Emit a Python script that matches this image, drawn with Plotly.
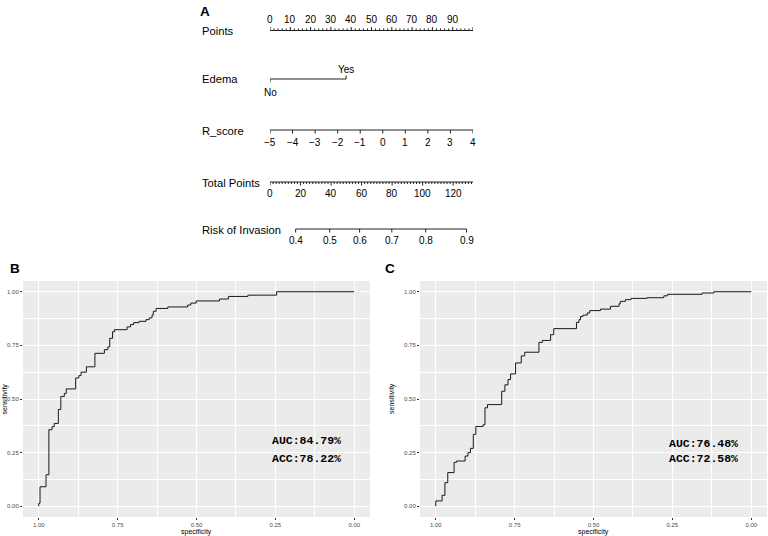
import plotly.graph_objects as go

W, H = 768, 536

# ---------------- Nomogram data ----------------
points_labels = [0, 10, 20, 30, 40, 50, 60, 70, 80, 90]
points_max = 100
edema_levels = ["No", "Yes"]
edema_points = [0, 37.5]
r_score_values = [-5, -4, -3, -2, -1, 0, 1, 2, 3, 4]
total_ticks = [0, 20, 40, 60, 80, 100, 120]
total_max = 133
risk_values = [0.4, 0.5, 0.6, 0.7, 0.8, 0.9]
risk_total_points = [16.8, 39.1, 58.7, 79.8, 102.0, 128.8]

# ---------------- ROC data (specificity where each sensitivity level ends) ----------------
roc_b_spec = [1.0, 0.996, 0.977, 0.968, 0.958, 0.951, 0.938, 0.930, 0.919, 0.913, 0.883,
              0.873, 0.866, 0.849, 0.822, 0.792, 0.781, 0.775, 0.766, 0.760, 0.720, 0.709,
              0.699, 0.682, 0.660, 0.650, 0.641, 0.637, 0.628, 0.591, 0.528, 0.518, 0.501,
              0.427, 0.399, 0.337, 0.246, 0.0]
roc_b_sens = [0.0, 0.014, 0.091, 0.147, 0.357, 0.371, 0.386, 0.451, 0.512, 0.526, 0.547,
              0.598, 0.609, 0.625, 0.650, 0.713, 0.730, 0.743, 0.783, 0.814, 0.823, 0.836,
              0.847, 0.856, 0.862, 0.870, 0.878, 0.891, 0.909, 0.922, 0.929, 0.938, 0.947,
              0.957, 0.966, 0.978, 0.984, 1.0]
roc_c_spec = [1.0, 0.980, 0.971, 0.962, 0.942, 0.934, 0.907, 0.898, 0.890, 0.881, 0.873,
              0.850, 0.844, 0.836, 0.791, 0.781, 0.771, 0.763, 0.747, 0.729, 0.718, 0.673,
              0.662, 0.636, 0.626, 0.554, 0.546, 0.541, 0.533, 0.520, 0.512, 0.478, 0.446,
              0.419, 0.415, 0.399, 0.381, 0.330, 0.277, 0.265, 0.156, 0.119, 0.0]
roc_c_sens = [0.0, 0.025, 0.051, 0.110, 0.157, 0.205, 0.211, 0.234, 0.250, 0.270, 0.335,
              0.372, 0.380, 0.459, 0.474, 0.536, 0.566, 0.591, 0.617, 0.668, 0.701, 0.718,
              0.764, 0.773, 0.800, 0.828, 0.857, 0.870, 0.885, 0.891, 0.901, 0.912, 0.919,
              0.932, 0.944, 0.955, 0.963, 0.969, 0.972, 0.981, 0.988, 0.994, 1.0]
auc_b, acc_b = "84.79%", "78.22%"
auc_c, acc_c = "76.48%", "72.58%"


def px(x):
    return x / W


def py(y):
    return 1 - y / H


fig = go.Figure()

# ---------------- Nomogram (axis x3: points 0..100, axis y3: pixel rows) ----------------
row_y = {"Points": 30.5, "Edema": 79, "R_score": 130, "Total Points": 182, "Risk of Invasion": 229}
line_col = "#222222"
font_sans = "Liberation Sans, Arial, sans-serif"


def seg_trace(xs, ys):
    fig.add_trace(go.Scatter(x=xs, y=ys, mode="lines", xaxis="x3", yaxis="y3",
                             line=dict(color=line_col, width=1), hoverinfo="skip",
                             showlegend=False))


def tick_lines(positions, y0, lengths):
    xs, ys = [], []
    for p, L in zip(positions, lengths):
        xs += [p, p, None]
        ys += [y0, y0 + L, None]
    return xs, ys


annotations = []


def label(x, y, text, size=10, xref="x3", yref="y3", xanchor="center", family=font_sans,
          bold=False, angle=0):
    annotations.append(dict(x=x, y=y, text=("<b>%s</b>" % text) if bold else text,
                            xref=xref, yref=yref, showarrow=False,
                            xanchor=xanchor, yanchor="middle", textangle=angle,
                            font=dict(size=size, color="black", family=family)))


# Points
yP = row_y["Points"]
minor = list(range(0, points_max + 1, 2))
xs, ys = tick_lines(minor, yP, [-3.5 if v % 10 == 0 else -2 for v in minor])
seg_trace([0, points_max, None] + xs, [yP, yP, None] + ys)
for v in points_labels:
    label(v, yP - 11, str(v))

# Edema
yE = row_y["Edema"]
seg_trace([edema_points[0], edema_points[1], None, edema_points[0], edema_points[0], None,
           edema_points[1], edema_points[1]],
          [yE, yE, None, yE, yE + 3.5, None, yE, yE - 3.5])
label(edema_points[0], yE + 13, edema_levels[0])
label(edema_points[1], yE - 9.5, edema_levels[1])

# R_score
yR = row_y["R_score"]
r_min, r_max = min(r_score_values), max(r_score_values)
r_pos = [(v - r_min) / (r_max - r_min) * points_max for v in r_score_values]
xs, ys = tick_lines(r_pos, yR, [3.5] * len(r_pos))
seg_trace([r_pos[0], r_pos[-1], None] + xs, [yR, yR, None] + ys)
for v, p in zip(r_score_values, r_pos):
    label(p, yR + 12, ("\u2212" + str(-v)) if v < 0 else str(v))

# Total Points
yT = row_y["Total Points"]
tmin = list(range(0, total_max + 1, 2))
t_pos = [v * points_max / total_max for v in tmin]
xs, ys = tick_lines(t_pos, yT, [3.5 if v % 20 == 0 else 2 for v in tmin])
seg_trace([0, points_max, None] + xs, [yT, yT, None] + ys)
for v in total_ticks:
    label(v * points_max / total_max, yT + 11, str(v))

# Risk
yK = row_y["Risk of Invasion"]
k_pos = [v * points_max / total_max for v in risk_total_points]
xs, ys = tick_lines(k_pos, yK, [3.5] * len(k_pos))
seg_trace([k_pos[0], k_pos[-1], None] + xs, [yK, yK, None] + ys)
for v, p in zip(risk_values, k_pos):
    label(p, yK + 11.5, f"{v:.1f}")

# Row labels
for name, yv in row_y.items():
    label(px(200), py(yv + 0.5), name, size=11.2, xref="paper", yref="paper", xanchor="left")

# ---------------- ROC curves ----------------
fig.add_trace(go.Scatter(x=roc_b_spec, y=roc_b_sens, mode="lines", line_shape="vh",
                         line=dict(color="#1a1a1a", width=1), xaxis="x", yaxis="y",
                         showlegend=False, hoverinfo="skip"))
fig.add_trace(go.Scatter(x=roc_c_spec, y=roc_c_sens, mode="lines", line_shape="vh",
                         line=dict(color="#1a1a1a", width=1), xaxis="x2", yaxis="y2",
                         showlegend=False, hoverinfo="skip"))

mono = "Liberation Mono, Courier New, monospace"
for ax, auc, acc, yA, yC in (("", auc_b, acc_b, 0.305, 0.222), ("2", auc_c, acc_c, 0.292, 0.222)):
    label(0.15, yA, "AUC:" + auc, size=11.5, xref="x" + ax, yref="y" + ax, family=mono, bold=True)
    label(0.15, yC, "ACC:" + acc, size=11.5, xref="x" + ax, yref="y" + ax, family=mono, bold=True)


def roc_axis(domain, anchor, rng):
    return dict(domain=domain, anchor=anchor, range=rng, showgrid=True, gridcolor="white",
                gridwidth=1.1, zeroline=False, showline=False, ticks="outside", ticklen=2,
                tickwidth=0.6, tickcolor="#333333", tickvals=[0, 0.25, 0.5, 0.75, 1],
                tickformat=".2f", tickfont=dict(size=6, color="#4D4D4D", family=font_sans),
                minor=dict(showgrid=True, gridcolor="white", gridwidth=0.5,
                           tickvals=[0.125, 0.375, 0.625, 0.875], ticks=""),
                fixedrange=True)


ydom = [py(517), py(281)]
shapes = []
for ax in ("", "2"):
    shapes.append(dict(type="rect", xref="x%s domain" % ax, yref="y%s domain" % ax,
                       x0=0, x1=1, y0=0, y1=1, fillcolor="#EBEBEB", line=dict(width=0),
                       layer="below"))

layout = dict(
    width=W, height=H, margin=dict(l=0, r=0, t=0, b=0),
    paper_bgcolor="white", plot_bgcolor="rgba(0,0,0,0)",
    xaxis=roc_axis([px(23), px(370)], "y", [1.05, -0.05]),
    yaxis=roc_axis(ydom, "x", [-0.05, 1.05]),
    xaxis2=roc_axis([px(420), px(767)], "y2", [1.05, -0.05]),
    yaxis2=roc_axis(ydom, "x2", [-0.05, 1.05]),
    xaxis3=dict(domain=[px(270), px(473)], anchor="y3", range=[0, points_max], visible=False,
                fixedrange=True),
    yaxis3=dict(domain=[py(250), 1], anchor="x3", range=[250, 0], visible=False,
                fixedrange=True),
    shapes=shapes,
)

# axis titles
for xc, ylx in ((196.5, 4.5), (593.5, 392)):
    label(px(xc), py(532), "specificity", size=7, xref="paper", yref="paper")
    label(px(ylx), py(399), "sensitivity", size=7, xref="paper", yref="paper", angle=-90)

# panel letters
for t, xl, yl in (("A", 205, 12), ("B", 15, 268), ("C", 390, 268)):
    label(px(xl), py(yl), t, size=13.5, xref="paper", yref="paper", bold=True)

layout["annotations"] = annotations
fig.update_layout(**layout)
fig.write_html("out.html", config={"displayModeBar": False},
               post_script="document.body.style.margin='0';document.body.style.overflow='hidden';")
